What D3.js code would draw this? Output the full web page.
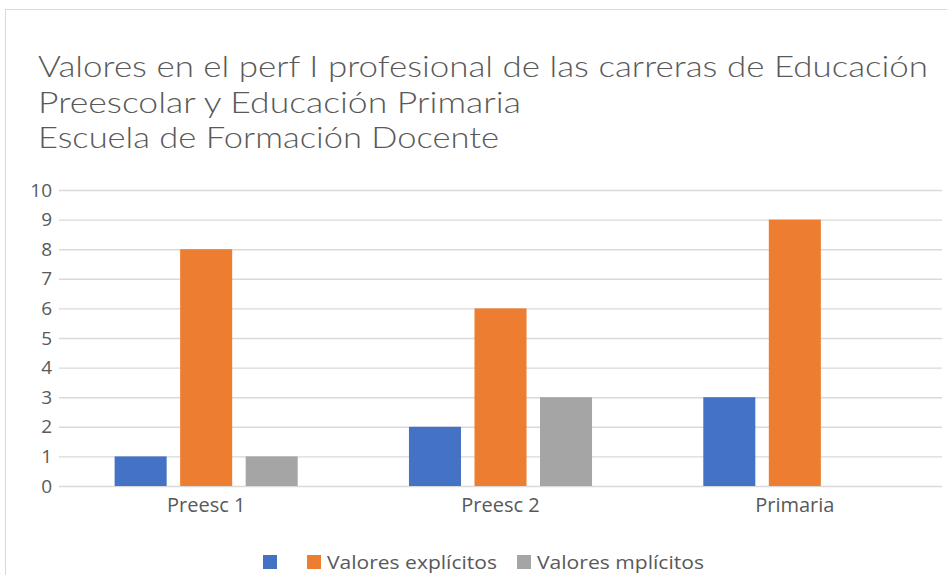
<!DOCTYPE html>
<html>
<head>
<meta charset="utf-8">
<script src="https://cdn.jsdelivr.net/npm/d3@7"></script>
<style>
  body { margin: 0; background: #fff; }
  svg { display: block; font-family: "Open Sans", "Noto Sans", sans-serif; }
  .tick text { fill: #595959; font-family: "Open Sans", "Noto Sans", sans-serif; }
  .title { font-family: Lato, "Open Sans", sans-serif; font-weight: 300; }
</style>
</head>
<body>
<svg id="chart"></svg>
<script>
'use strict'

// data
const categories = ['Preesc 1', 'Preesc 2', 'Primaria']
const seriesNames = ['', 'Valores explícitos', 'Valores mplícitos']
const serie1 = [1, 2, 3]
const serie2 = [8, 6, 9]
const serie3 = [1, 3, 0]
const yTicks = [0, 1, 2, 3, 4, 5, 6, 7, 8, 9, 10]
const titleLines = [
  'Valores en el perf I profesional de las carreras de Educación',
  'Preescolar y Educación Primaria',
  'Escuela de Formación Docente'
]
const colors = ['#4472c4', '#ed7d31', '#a5a5a5']

const W = 947, H = 575
const margin = {top: 190, right: 5, bottom: 89, left: 59}
const plotW = W - margin.left - margin.right
const plotH = H - margin.top - margin.bottom

const svg = d3.select('#chart').attr('width', W).attr('height', H)

// chart frame
svg.append('rect')
  .attr('x', 5.5).attr('y', 9.5)
  .attr('width', 1000).attr('height', 700)
  .attr('fill', 'none').attr('stroke', '#d9d9d9')

// stretch or shrink a text to the width it has in the picture
function fit (sel, width) {
  sel.attr('textLength', width).attr('lengthAdjust', 'spacingAndGlyphs')
}

// title
const titleWidths = [890, 483, 461]
svg.append('g').selectAll('text')
  .data(titleLines)
  .enter().append('text')
    .attr('class', 'title')
    .attr('x', 38)
    .attr('y', (d, i) => 77 + i * 35.5)
    .attr('fill', '#595959')
    .style('font-size', '29px')
    .text(d => d)
    .each(function (d, i) { fit(d3.select(this), titleWidths[i]) })

const g = svg.append('g').attr('transform', 'translate(' + margin.left + ',' + margin.top + ')')

const y = d3.scaleLinear().domain([0, 10]).range([plotH, 0])
const x0 = d3.scaleBand().domain(categories).range([0, plotW]).padding(0)
const groupW = x0.bandwidth() * 0.622
const x1 = d3.scaleBand().domain(d3.range(3))
  .range([(x0.bandwidth() - groupW) / 2, (x0.bandwidth() + groupW) / 2])
  .paddingInner(0.206)

// gridlines
g.append('g')
  .call(d3.axisLeft(y).tickValues(yTicks).tickSize(-plotW).tickFormat(''))
  .call(a => a.select('.domain').remove())
  .call(a => a.selectAll('line').attr('stroke', '#d9d9d9').attr('stroke-width', 1.4))

// y labels
g.append('g')
  .call(d3.axisLeft(y).tickValues(yTicks).tickSize(0).tickPadding(7))
  .call(a => a.select('.domain').remove())
  .call(a => a.selectAll('text').style('font-size', '19px'))

// x labels
g.append('g')
  .attr('transform', 'translate(0,' + plotH + ')')
  .call(d3.axisBottom(x0).tickSize(0).tickPadding(12))
  .call(a => a.select('.domain').remove())
  .call(a => a.selectAll('text').style('font-size', '20px'))

// bars
const table = categories.map((c, i) => ({cat: c, values: [serie1[i], serie2[i], serie3[i]]}))
const group = g.selectAll('.group')
  .data(table)
  .enter().append('g')
    .attr('transform', d => 'translate(' + x0(d.cat) + ',0)')
group.selectAll('rect')
  .data(d => d.values.map((v, k) => ({k: k, v: v})))
  .enter().append('rect')
    .attr('x', d => x1(d.k))
    .attr('y', d => y(d.v))
    .attr('width', x1.bandwidth())
    .attr('height', d => plotH - y(d.v))
    .attr('fill', d => colors[d.k])

// legend
const legendX = [263, 307, 517]
const legendWidths = [0, 170, 167]
const legend = svg.append('g').selectAll('g')
  .data(seriesNames)
  .enter().append('g')
    .attr('transform', (d, i) => 'translate(' + legendX[i] + ',555)')
legend.append('rect')
  .attr('width', 14).attr('height', 14)
  .attr('fill', (d, i) => colors[i])
legend.append('text')
  .attr('x', 20).attr('y', 14)
  .attr('fill', '#595959')
  .style('font-size', '19px')
  .text(d => d)
  .each(function (d, i) { if (d) fit(d3.select(this), legendWidths[i]) })
</script>
</body>
</html>
